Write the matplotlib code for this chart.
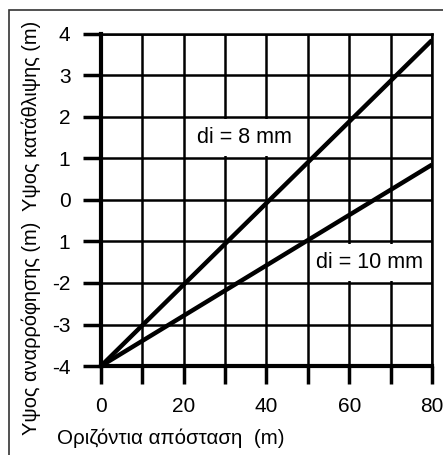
import matplotlib.pyplot as plt
from matplotlib.patches import Rectangle

plt.rcParams['font.family'] = ['Liberation Sans', 'DejaVu Sans']

# dados das duas retas (distancia em m, altura em m)
dist = [0, 80]
altura_8mm = [-4, 3.85]
altura_10mm = [-4, 0.85]

xticks = [0, 10, 20, 30, 40, 50, 60, 70, 80]
xticklabels = ["0", "", "20", "", "40", "", "60", "", "80"]
yticks = [-4, -3, -2, -1, 0, 1, 2, 3, 4]
yticklabels = ["-4", "-3", "-2", "1", "0", "1", "2", "3", "4"]

rotulo8 = "di = 8 mm"
rotulo10 = "di = 10 mm"
eixoX = "Οριζόντια απόσταση  (m)"
eixoY = "Υψος αναρρόφησης (m)  Υψος κατάθλιψης (m)"

fig = plt.figure(figsize=(4.43, 4.55), dpi=100)
ax = fig.add_axes([0.228, 0.1956, 0.747, 0.7297])

ax.set_xlim(0, 80)
ax.set_ylim(-4, 4)
ax.set_xticks(xticks)
ax.set_xticklabels(xticklabels)
ax.set_yticks(yticks)
ax.set_yticklabels(yticklabels)
ax.tick_params(length=13, width=2.5, labelsize=15, pad=9, color="k")

ax.grid(True, color="k", linewidth=1.8, zorder=1)
ax.set_axisbelow(True)
for lado in ["top", "right"]:
    ax.spines[lado].set_linewidth(1.8)
for lado in ["left", "bottom"]:
    ax.spines[lado].set_linewidth(3)

# caixas brancas atras dos rotulos
ax.add_patch(Rectangle((20.5, 1.05), 29.0, 0.9, facecolor="white", edgecolor="none", zorder=2))
ax.add_patch(Rectangle((50.5, -1.95), 29.0, 0.9, facecolor="white", edgecolor="none", zorder=2))

ax.plot(dist, altura_8mm, color="k", linewidth=3.2, zorder=3, solid_capstyle="butt")
ax.plot(dist, altura_10mm, color="k", linewidth=3.2, zorder=3, solid_capstyle="butt")

ax.text(34.6, 1.5, rotulo8, fontsize=15.5, ha="center", va="center", zorder=4)
ax.text(65.0, -1.5, rotulo10, fontsize=15.5, ha="center", va="center", zorder=4)

fig.text(57 / 443, 1 - 438 / 455, eixoX, fontsize=14.8, ha="left", va="center")
fig.text(31 / 443, 1 - 228 / 455, eixoY, fontsize=14.4, ha="center", va="center", rotation=90)

# moldura da figura
fig.patches.append(Rectangle((9 / 443, -0.1), 1.2, 1 - 10 / 455 + 0.1, transform=fig.transFigure,
                             facecolor="none", edgecolor="#333333", linewidth=1.2))

plt.savefig("out.png", dpi=100)
